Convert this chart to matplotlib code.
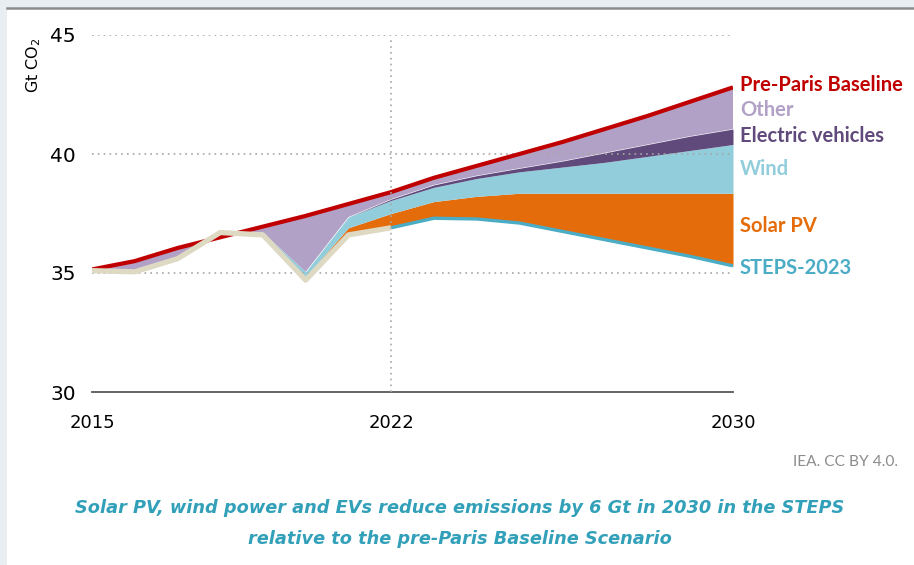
import numpy as np
import matplotlib.pyplot as plt
from matplotlib.patches import Rectangle
from matplotlib.lines import Line2D

years = np.arange(2015, 2031)
# historical emissions to 2022, then STEPS-2023 projection
steps = [35.1, 35.05, 35.6, 36.7, 36.6, 34.7, 36.6, 36.9,
         37.3, 37.27, 37.1, 36.75, 36.4, 36.05, 35.7, 35.3]
baseline = [35.15, 35.5, 36.05, 36.5, 36.95, 37.4, 37.9, 38.4,
            39.0, 39.5, 40.0, 40.5, 41.05, 41.6, 42.2, 42.8]
solar = [0, 0, 0, 0, 0.1, 0.15, 0.3, 0.6,
         0.7, 0.95, 1.25, 1.6, 1.95, 2.3, 2.65, 3.05]
wind = [0, 0, 0, 0, 0, 0.2, 0.45, 0.55,
        0.6, 0.75, 0.9, 1.1, 1.3, 1.55, 1.8, 2.05]
ev = [0, 0, 0, 0, 0, 0, 0, 0.05,
      0.1, 0.12, 0.15, 0.25, 0.4, 0.5, 0.6, 0.65]

c_base = "#c00000"
c_other = "#b2a1c7"
c_ev = "#604a7b"
c_wind = "#92cddc"
c_solar = "#e46c0a"
c_steps = "#4bacc6"
c_hist = "#ddd9c3"
c_title = "#31a0b8"

fig = plt.figure(figsize=(9.14, 5.65), dpi=100)
fig.patch.set_facecolor("#e9eef3")
fig.patches.append(Rectangle((7 / 914, 0), 1, 1 - 8 / 565, transform=fig.transFigure,
                             facecolor="white", edgecolor="none", zorder=-5))
fig.lines.append(Line2D([7 / 914, 1], [1 - 8 / 565] * 2, transform=fig.transFigure,
                        color="#8c8c8c", lw=1.8, zorder=-4))

ax = fig.add_axes([92 / 914, 1 - 392 / 565, 641 / 914, 357 / 565])
ax.set_facecolor("none")
ax.set_zorder(2)

s = np.array(steps)
b = np.array(baseline)
t_solar = s + np.array(solar)
t_wind = t_solar + np.array(wind)
t_ev = t_wind + np.array(ev)

ax.fill_between(years, s, t_solar, color=c_solar, lw=0)
ax.fill_between(years, t_solar, t_wind, color=c_wind, lw=0)
ax.fill_between(years, t_wind, t_ev, color=c_ev, lw=0)
ax.fill_between(years, t_ev, b, where=b > t_ev, interpolate=True, color=c_other, lw=0)

ax.plot(years, b, color=c_base, lw=3, solid_capstyle="butt", zorder=4)
ax.plot(years[7:], s[7:], color=c_steps, lw=2.4, solid_capstyle="butt", zorder=4)
ax.plot(years[:8], s[:8], color=c_hist, lw=3.8, solid_capstyle="butt", zorder=5)

for yv in [35, 40, 45]:
    ax.axhline(yv, color="#a6a6a6", lw=1.2, ls=(0, (1, 2.5)), zorder=1)
ax.axvline(2022, ymin=0, ymax=0.99, color="#a6a6a6", lw=1.2, ls=(0, (1, 2.5)), zorder=6)

ax.set_xlim(2015, 2030)
ax.set_ylim(30, 45)
for sp in ["top", "right", "left"]:
    ax.spines[sp].set_visible(False)
ax.spines["bottom"].set_color("#595959")
ax.spines["bottom"].set_linewidth(1.3)
ax.set_yticks([30, 35, 40, 45])
ax.set_xticks([2015, 2022, 2030])
ax.tick_params(axis="x", length=0, labelsize=13, pad=16)
ax.tick_params(axis="y", length=0, labelsize=14.5, pad=11.5)
ax.set_ylabel("Gt CO$_2$", fontsize=11.5)
ax.yaxis.set_label_coords(-0.076, 0.916)

labels = [("Pre-Paris Baseline", 85, c_base),
          ("Other", 110, c_other),
          ("Electric vehicles", 136, c_ev),
          ("Wind", 169, c_wind),
          ("Solar PV", 226, c_solar),
          ("STEPS-2023", 268, c_steps)]
for txt, py, col in labels:
    fig.text(740 / 914, 1 - py / 565, txt, color=col, fontsize=14.5,
             fontweight="bold", va="center", ha="left", family="Lato")

fig.text(898 / 914, 1 - 462 / 565, "IEA. CC BY 4.0.", color="#8c8c8c",
         fontsize=11.2, ha="right", va="center", family="Lato")
for txt, py in [("Solar PV, wind power and EVs reduce emissions by 6 Gt in 2030 in the STEPS", 508),
                ("relative to the pre-Paris Baseline Scenario", 539)]:
    fig.text(460 / 914, 1 - py / 565, txt, color=c_title, fontsize=12.8, ha="center",
             va="center", style="italic", fontweight="bold", family="DejaVu Sans")

fig.savefig("out.png", dpi=100, facecolor=fig.get_facecolor())
